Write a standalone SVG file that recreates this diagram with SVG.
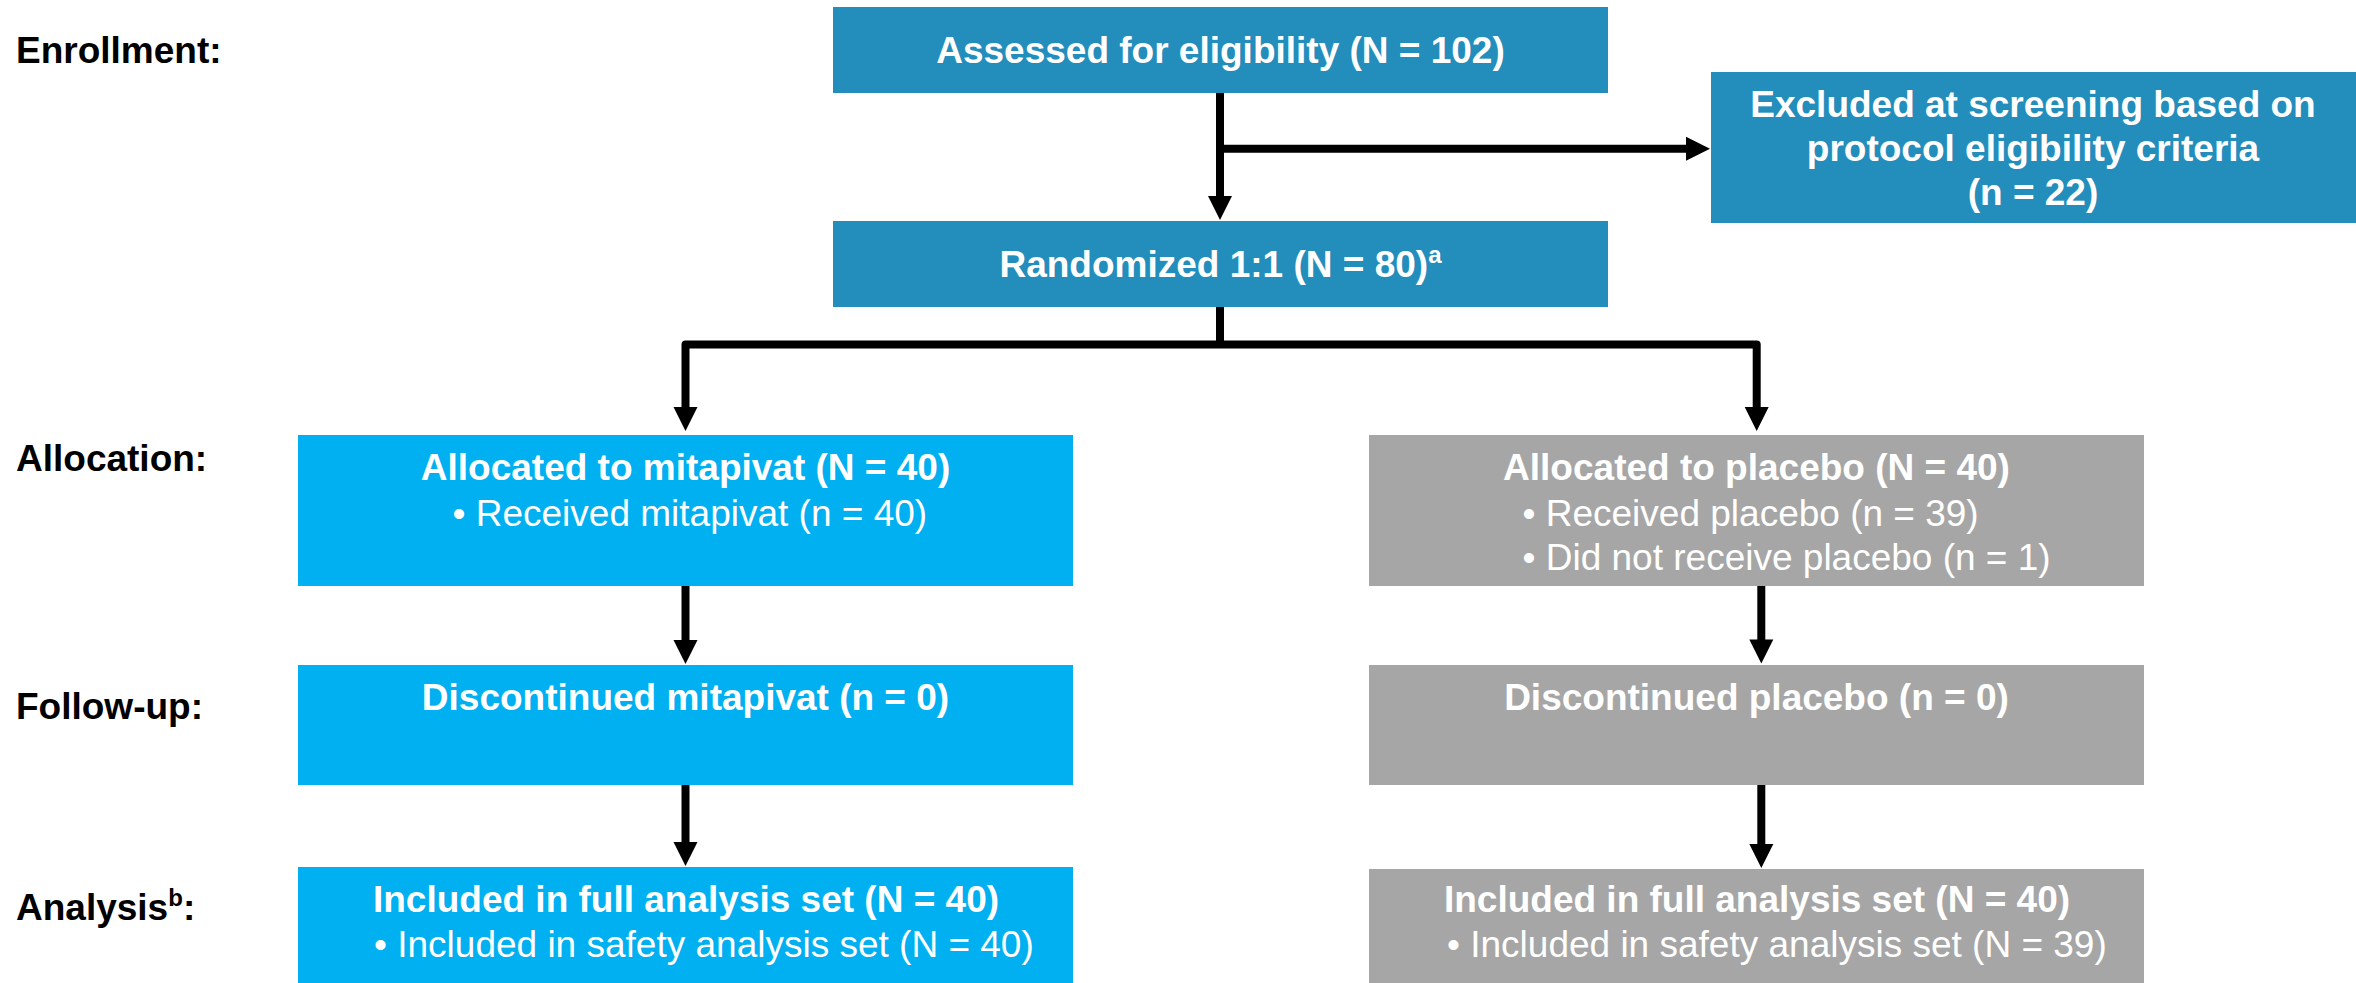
<svg xmlns="http://www.w3.org/2000/svg" width="2356" height="983" viewBox="0 0 2356 983">
<defs>
<style>
.t{font-family:"Liberation Sans",Arial,sans-serif;font-size:37px;fill:#fff}
.b{font-weight:bold}
.c{text-anchor:middle}
.lab{font-family:"Liberation Sans",Arial,sans-serif;font-size:37px;font-weight:bold;fill:#000}
.dark{fill:#238DBC}
.cyan{fill:#00B0F0}
.gray{fill:#A6A6A6}
.ln{fill:none;stroke:#000;stroke-width:8;stroke-linejoin:round}
</style>
<marker id="ah" markerUnits="userSpaceOnUse" markerWidth="25" markerHeight="24" refX="1" refY="12" orient="auto" overflow="visible">
<path d="M0,0 L24,12 L0,24 Z" fill="#000"/>
</marker>
</defs>
<rect width="2356" height="983" fill="#fff"/>

<g id="labels">
<text class="lab" x="16" y="63">Enrollment:</text>
<text class="lab" x="16" y="471">Allocation:</text>
<text class="lab" x="16" y="719">Follow-up:</text>
<text class="lab" x="16" y="920">Analysis<tspan font-size="24" dy="-14">b</tspan><tspan dy="14">:</tspan></text>
</g>

<g id="connectors">
<path class="ln" d="M1220,93 V197" marker-end="url(#ah)"/>
<path class="ln" d="M1220,148.7 H1687" marker-end="url(#ah)"/>
<path class="ln" d="M1220,306.7 V344.5"/>
<path class="ln" d="M1220,344.5 H685.5 V408" marker-end="url(#ah)"/>
<path class="ln" d="M1220,344.5 H1756.7 V408" marker-end="url(#ah)"/>
<path class="ln" d="M685.5,585.7 V641" marker-end="url(#ah)"/>
<path class="ln" d="M685.5,784.7 V843" marker-end="url(#ah)"/>
<path class="ln" d="M1761.3,585.7 V640.5" marker-end="url(#ah)"/>
<path class="ln" d="M1761.3,784.3 V845" marker-end="url(#ah)"/>
</g>

<g id="assessed">
<rect class="dark" x="833" y="7" width="775" height="86"/>
<text class="t b c" x="1220.5" y="63">Assessed for eligibility (N = 102)</text>
</g>

<g id="excluded">
<rect class="dark" x="1711" y="72" width="645" height="151"/>
<text class="t b c" x="2033" y="117">Excluded at screening based on</text>
<text class="t b c" x="2033" y="161">protocol eligibility criteria</text>
<text class="t b c" x="2033" y="205">(n = 22)</text>
</g>

<g id="randomized">
<rect class="dark" x="833" y="221" width="775" height="86"/>
<text class="t b c" x="1220.5" y="277">Randomized 1:1 (N = 80)<tspan font-size="24" dy="-14">a</tspan></text>
</g>

<g id="alloc-mitapivat">
<rect class="cyan" x="298" y="435" width="775" height="151"/>
<text class="t b c" x="685.5" y="480">Allocated to mitapivat (N = 40)</text>
<text class="t" x="452.5" y="526">• Received mitapivat (n = 40)</text>
</g>

<g id="alloc-placebo">
<rect class="gray" x="1369" y="435" width="775" height="151"/>
<text class="t b c" x="1756.5" y="480">Allocated to placebo (N = 40)</text>
<text class="t" x="1522.5" y="526">• Received placebo (n = 39)</text>
<text class="t" x="1522.5" y="569.5">• Did not receive placebo (n = 1)</text>
</g>

<g id="followup-mitapivat">
<rect class="cyan" x="298" y="665" width="775" height="120"/>
<text class="t b c" x="685.5" y="710">Discontinued mitapivat (n = 0)</text>
</g>

<g id="followup-placebo">
<rect class="gray" x="1369" y="665" width="775" height="120"/>
<text class="t b c" x="1756.5" y="710">Discontinued placebo (n = 0)</text>
</g>

<g id="analysis-mitapivat">
<rect class="cyan" x="298" y="867" width="775" height="116"/>
<text class="t b c" x="686" y="912">Included in full analysis set (N = 40)</text>
<text class="t" x="374" y="957">• Included in safety analysis set (N = 40)</text>
</g>

<g id="analysis-placebo">
<rect class="gray" x="1369" y="869" width="775" height="114"/>
<text class="t b c" x="1757" y="912">Included in full analysis set (N = 40)</text>
<text class="t" x="1447" y="957">• Included in safety analysis set (N = 39)</text>
</g>
</svg>
